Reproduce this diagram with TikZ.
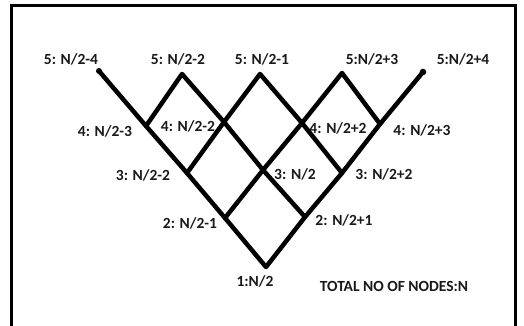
\documentclass[tikz,border=0pt]{standalone}
\usepackage{fontspec}
\setmainfont{Carlito}
\begin{document}
\begin{tikzpicture}[x=1pt,y=-1pt,
  edge/.style={line width=4.5pt,line cap=round,line join=round},
  lbl/.style={font=\fontsize{15.5}{18}\selectfont\bfseries,inner sep=0pt,text=black!90},
  frame/.style={line width=3pt}]
\useasboundingbox (0,0) rectangle (524,326);
% frame
\coordinate (fbl) at (11.5,326);
\coordinate (ftl) at (11.5,6);
\coordinate (ftr) at (515.5,6);
\coordinate (fbr) at (515.5,326);
\draw[frame] (fbl) -- (ftl) -- (ftr) -- (fbr);
% lattice points
\coordinate (p1) at (266,267);
\coordinate (p2l) at (225,218);
\coordinate (p2r) at (305,217);
\coordinate (p3l) at (187,173);
\coordinate (p3m) at (263,170);
\coordinate (p3r) at (342,173);
\coordinate (p4a) at (146,126);
\coordinate (p4b) at (224,122);
\coordinate (p4c) at (302,123);
\coordinate (p4d) at (380,124);
\coordinate (p5a) at (99,71);
\coordinate (p5b) at (182,74);
\coordinate (p5c) at (260,74);
\coordinate (p5d) at (342,73);
\coordinate (p5e) at (423,72);
% lines
\draw[edge] (p5a) -- (p4a) -- (p3l) -- (p2l) -- (p1) -- (p2r) -- (p3r) -- (p4d) -- (p5e);
\draw[edge] (p4a) -- (p5b) -- (p4b) -- (p3m) -- (p2r);
\draw[edge] (p3l) -- (p4b) -- (p5c) -- (p4c) -- (p3r);
\draw[edge] (p2l) -- (p3m) -- (p4c) -- (p5d) -- (p4d);
\fill (p5a) circle (3pt);
\fill (p5e) circle (3.3pt);
% labels
\node[lbl] (l5a) at (71,59) {5: N/2-4};
\node[lbl] (l5b) at (178,59) {5: N/2-2};
\node[lbl] (l5c) at (262,59) {5: N/2-1};
\node[lbl] (l5d) at (372,59) {5:N/2+3};
\node[lbl] (l5e) at (463,59) {5:N/2+4};
\node[lbl] (l4a) at (105,131) {4: N/2-3};
\node[lbl] (l4b) at (188,126) {4: N/2-2};
\node[lbl] (l4c) at (338,128) {4: N/2+2};
\node[lbl] (l4d) at (422,130) {4: N/2+3};
\node[lbl] (l3l) at (143,175) {3: N/2-2};
\node[lbl] (l3m) at (295,174) {3: N/2};
\node[lbl] (l3r) at (384,174) {3: N/2+2};
\node[lbl] (l2l) at (190,223) {2: N/2-1};
\node[lbl] (l2r) at (344,220) {2: N/2+1};
\node[lbl] (l1) at (255,281) {1:N/2};
\node[lbl] (tot) at (394,286) {TOTAL NO OF NODES:N};
\end{tikzpicture}
\end{document}
